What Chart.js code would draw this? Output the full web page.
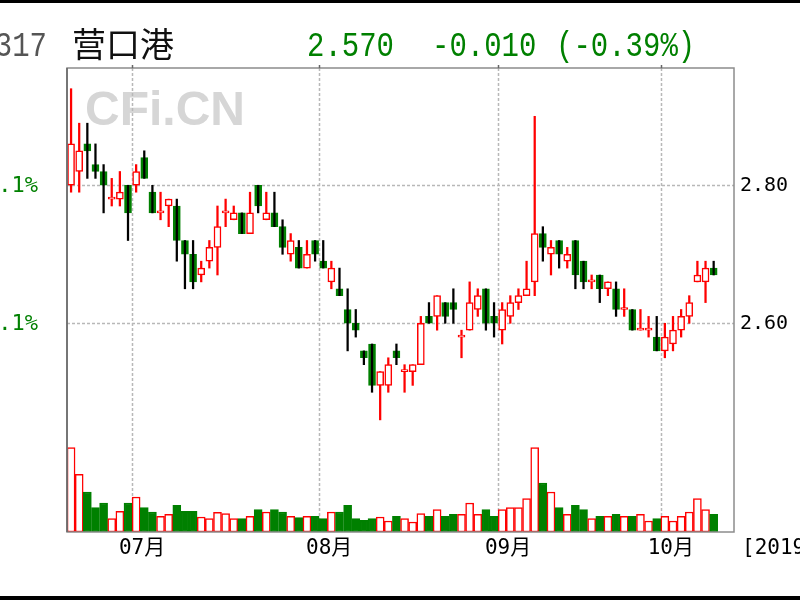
<!DOCTYPE html>
<html>
<head>
<meta charset="utf-8">
<script src="https://cdn.jsdelivr.net/npm/chart.js@4.4.1/dist/chart.umd.min.js"></script>
<style>
  html, body { margin: 0; padding: 0; background: #fff; }
  #wrap { width: 800px; height: 600px; }
</style>
</head>
<body>
<div id="wrap"><canvas id="kChart" width="800" height="600"></canvas></div>
<script>
// trading days, 2019
const juneDays = [19, 20, 21, 24, 25, 26, 27, 28];
const julyDays = [1, 2, 3, 4, 5, 8, 9, 10, 11, 12, 15, 16, 17, 18, 19, 22, 23, 24, 25, 26, 29, 30, 31];
const augDays = [1, 2, 5, 6, 7, 8, 9, 12, 13, 14, 15, 16, 19, 20, 21, 22, 23, 26, 27, 28, 29, 30];
const sepDays = [2, 3, 4, 5, 6, 9, 10, 11, 12, 16, 17, 18, 19, 20, 23, 24, 25, 26, 27, 30];
const octDays = [8, 9, 10, 11, 14, 15, 16];

const monthLabels = ['07月', '08月', '09月', '10月'];
const priceTicks = [2.60, 2.80];
const pctLabels = ['0.1%', '8.1%'];

const open = [2.80, 2.82, 2.86, 2.83, 2.82, 2.78, 2.78, 2.80, 2.80, 2.84,
  2.79, 2.76, 2.77, 2.77, 2.72, 2.70, 2.67, 2.69, 2.71, 2.76,
  2.75, 2.76, 2.73, 2.80, 2.75, 2.76, 2.74, 2.70, 2.71, 2.68,
  2.72, 2.69, 2.66, 2.65, 2.62, 2.60, 2.56, 2.57, 2.51, 2.51,
  2.56, 2.53, 2.53, 2.54, 2.61, 2.61, 2.63, 2.63, 2.58, 2.59,
  2.62, 2.65, 2.61, 2.59, 2.61, 2.63, 2.64, 2.66, 2.73, 2.70,
  2.72, 2.69, 2.72, 2.69, 2.66, 2.67, 2.65, 2.65, 2.62, 2.62,
  2.59, 2.59, 2.58, 2.56, 2.57, 2.59, 2.61, 2.66, 2.66, 2.68];
const high = [2.94, 2.89, 2.89, 2.86, 2.83, 2.81, 2.82, 2.80, 2.83, 2.85,
  2.80, 2.79, 2.78, 2.78, 2.72, 2.72, 2.69, 2.72, 2.77, 2.78,
  2.77, 2.76, 2.79, 2.80, 2.79, 2.79, 2.75, 2.73, 2.72, 2.72,
  2.72, 2.72, 2.69, 2.68, 2.65, 2.62, 2.56, 2.57, 2.53, 2.55,
  2.57, 2.54, 2.54, 2.61, 2.63, 2.64, 2.63, 2.65, 2.59, 2.66,
  2.65, 2.65, 2.63, 2.63, 2.64, 2.65, 2.69, 2.90, 2.74, 2.72,
  2.72, 2.71, 2.72, 2.69, 2.67, 2.67, 2.66, 2.66, 2.65, 2.62,
  2.62, 2.61, 2.61, 2.60, 2.61, 2.62, 2.64, 2.69, 2.69, 2.69];
const low = [2.79, 2.79, 2.81, 2.81, 2.76, 2.77, 2.77, 2.72, 2.79, 2.81,
  2.76, 2.75, 2.74, 2.69, 2.65, 2.65, 2.66, 2.68, 2.67, 2.74,
  2.75, 2.73, 2.73, 2.76, 2.75, 2.74, 2.70, 2.69, 2.68, 2.68,
  2.69, 2.68, 2.65, 2.64, 2.56, 2.58, 2.54, 2.50, 2.46, 2.50,
  2.54, 2.50, 2.51, 2.54, 2.60, 2.59, 2.60, 2.60, 2.55, 2.59,
  2.61, 2.59, 2.58, 2.57, 2.60, 2.62, 2.64, 2.64, 2.69, 2.67,
  2.68, 2.68, 2.65, 2.65, 2.65, 2.63, 2.64, 2.61, 2.61, 2.59,
  2.59, 2.58, 2.56, 2.55, 2.56, 2.58, 2.60, 2.66, 2.63, 2.67];
const close = [2.86, 2.85, 2.85, 2.82, 2.80, 2.78, 2.79, 2.76, 2.82, 2.81,
  2.76, 2.76, 2.78, 2.72, 2.70, 2.66, 2.68, 2.71, 2.74, 2.76,
  2.76, 2.73, 2.76, 2.77, 2.76, 2.74, 2.71, 2.72, 2.68, 2.70,
  2.70, 2.68, 2.68, 2.64, 2.60, 2.59, 2.55, 2.51, 2.53, 2.54,
  2.55, 2.53, 2.54, 2.60, 2.60, 2.64, 2.61, 2.62, 2.58, 2.63,
  2.64, 2.60, 2.60, 2.62, 2.63, 2.64, 2.65, 2.73, 2.71, 2.71,
  2.70, 2.70, 2.67, 2.66, 2.66, 2.65, 2.66, 2.62, 2.62, 2.59,
  2.59, 2.59, 2.56, 2.58, 2.59, 2.61, 2.63, 2.67, 2.68, 2.67];
const volume = [253, 173, 120, 73, 87, 40, 62, 87, 105, 73,
  60, 47, 53, 80, 62, 62, 45, 40, 59, 55,
  40, 40, 47, 67, 60, 67, 60, 47, 43, 47,
  47, 40, 60, 60, 80, 40, 35, 40, 45, 33,
  47, 40, 30, 55, 47, 67, 47, 53, 53, 87,
  53, 67, 47, 67, 73, 73, 100, 253, 147, 120,
  73, 53, 80, 67, 40, 47, 47, 53, 47, 47,
  53, 33, 40, 47, 33, 47, 60, 100, 67, 53];

const RED = '#ff0000';
const GREEN = '#008000';

// build category labels (two empty slots at the right end)
const pad2 = n => (n < 10 ? '0' : '') + n;
const dates = [];
[[6, juneDays], [7, julyDays], [8, augDays], [9, sepDays], [10, octDays]].forEach(([m, days]) => {
  days.forEach(d => dates.push('2019-' + pad2(m) + '-' + pad2(d)));
});
const labels = dates.concat(['', '']);
const monthStarts = [julyDays, augDays, sepDays, octDays].map((days, i) => dates.indexOf('2019-' + pad2(i + 7) + '-' + pad2(days[0])));

const isUp = close.map((c, i) => c >= open[i]);

// tall narrow header digits
function tallText(ctx, text, x, y) {
  ctx.save();
  ctx.translate(x, y);
  ctx.scale(1, 1.2);
  ctx.fillText(text, 0, 0);
  ctx.restore();
}

const framePlugin = {
  id: 'frame',
  beforeDatasetsDraw(chart) {
    const { ctx, chartArea: a, scales } = chart;
    const x = scales.x;
    const slot = x.getPixelForValue(1) - x.getPixelForValue(0);
    ctx.save();
    // watermark
    ctx.fillStyle = '#d6d6d6';
    ctx.font = 'bold 48px "Liberation Sans", Arial, sans-serif';
    ctx.textBaseline = 'alphabetic';
    ctx.fillText('CFi.CN', 85, 125);
    // grid
    ctx.strokeStyle = '#b8b8b8';
    ctx.lineWidth = 1.5;
    ctx.setLineDash([3, 2]);
    monthStarts.forEach(i => {
      const px = Math.round(x.getPixelForValue(i) - slot / 2) + 0.5;
      ctx.beginPath(); ctx.moveTo(px, a.top); ctx.lineTo(px, a.bottom); ctx.stroke();
    });
    priceTicks.forEach(v => {
      const py = Math.round(scales.y.getPixelForValue(v)) + 0.5;
      ctx.beginPath(); ctx.moveTo(a.left, py); ctx.lineTo(a.right, py); ctx.stroke();
    });
    ctx.restore();
  },
  afterDraw(chart) {
    const { ctx, chartArea: a, scales } = chart;
    const x = scales.x;
    const slot = x.getPixelForValue(1) - x.getPixelForValue(0);
    ctx.save();
    // frame
    ctx.strokeStyle = '#8c8c8c';
    ctx.lineWidth = 1.5;
    ctx.strokeRect(a.left, a.top, a.right - a.left, a.bottom - a.top);
    ctx.strokeStyle = '#666';
    ctx.beginPath(); ctx.moveTo(a.left, a.top); ctx.lineTo(a.left, a.bottom); ctx.stroke();
    // small marks above the top border at the month lines
    monthStarts.forEach(i => {
      const px = Math.round(x.getPixelForValue(i) - slot / 2) + 0.5;
      ctx.beginPath(); ctx.moveTo(px, a.top - 3); ctx.lineTo(px, a.top); ctx.stroke();
    });
    // month labels
    ctx.fillStyle = '#000';
    ctx.font = '21px "DejaVu Sans Mono", "Noto Sans CJK SC", monospace';
    ctx.textAlign = 'center';
    ctx.textBaseline = 'middle';
    monthStarts.forEach((i, k) => {
      ctx.fillText(monthLabels[k], x.getPixelForValue(i) - slot / 2 + 10, 549);
    });
    ctx.textAlign = 'left';
    ctx.fillText('[2019-10-16]', 742, 549);
    // right price labels, left percent labels
    priceTicks.forEach((v, k) => {
      const py = scales.y.getPixelForValue(v);
      ctx.font = '20px "DejaVu Sans Mono", monospace';
      ctx.fillStyle = '#000';
      ctx.textAlign = 'left';
      ctx.fillText(v.toFixed(2), 740, py + 1);
      ctx.font = '22px "DejaVu Sans Mono", monospace';
      ctx.fillStyle = GREEN;
      ctx.textAlign = 'right';
      ctx.fillText(pctLabels[k], 38, py + 1);
    });
    // title
    ctx.textBaseline = 'alphabetic';
    ctx.font = '29px "Liberation Mono", "DejaVu Sans Mono", monospace';
    ctx.fillStyle = '#555';
    ctx.textAlign = 'right';
    tallText(ctx, '600317', 47, 56);
    ctx.textAlign = 'left';
    ctx.fillStyle = '#111';
    ctx.font = '34px "Noto Sans CJK SC", sans-serif';
    ctx.fillText('营口港', 72, 57);
    ctx.fillStyle = GREEN;
    ctx.font = '29px "Liberation Mono", "DejaVu Sans Mono", monospace';
    tallText(ctx, '2.570', 307, 56);
    tallText(ctx, '-0.010', 432, 56);
    tallText(ctx, '(-0.39%)', 556, 56);
    // black bands
    ctx.fillStyle = '#000';
    ctx.fillRect(0, 0, 800, 3);
    ctx.fillRect(0, 596, 800, 4);
    ctx.restore();
  }
};

new Chart(document.getElementById('kChart'), {
  type: 'bar',
  data: {
    labels: labels,
    datasets: [
      {
        label: 'upWick',
        data: isUp.map((u, i) => (u ? [low[i], high[i]] : null)),
        backgroundColor: RED,
        barThickness: 1.6,
        grouped: false,
        yAxisID: 'y',
        order: 4
      },
      {
        label: 'body',
        data: open.map((o, i) => [o, close[i]]),
        backgroundColor: isUp.map(u => (u ? '#ffffff' : GREEN)),
        borderColor: isUp.map(u => (u ? RED : GREEN)),
        borderWidth: 1.5,
        borderSkipped: false,
        minBarLength: 2,
        barThickness: 7,
        grouped: false,
        yAxisID: 'y',
        order: 2
      },
      {
        label: 'downWick',
        data: isUp.map((u, i) => (u ? null : [low[i], high[i]])),
        backgroundColor: '#000000',
        barThickness: 1.6,
        grouped: false,
        yAxisID: 'y',
        order: 1
      },
      {
        label: 'volume',
        data: volume,
        backgroundColor: isUp.map(u => (u ? '#ffffff' : GREEN)),
        borderColor: isUp.map(u => (u ? RED : GREEN)),
        borderWidth: 1.5,
        borderSkipped: false,
        barThickness: 8,
        grouped: false,
        yAxisID: 'vol',
        order: 3
      }
    ]
  },
  options: {
    responsive: false,
    animation: false,
    layout: { padding: { left: 67, right: 66, top: 68, bottom: 68 } },
    plugins: { legend: { display: false }, tooltip: { enabled: false } },
    scales: {
      x: { display: false, offset: true },
      y: { display: false, min: 2.2975, max: 2.970 },
      vol: { display: false, min: 0, max: 1392 }
    }
  },
  plugins: [framePlugin]
});
</script>
</body>
</html>
